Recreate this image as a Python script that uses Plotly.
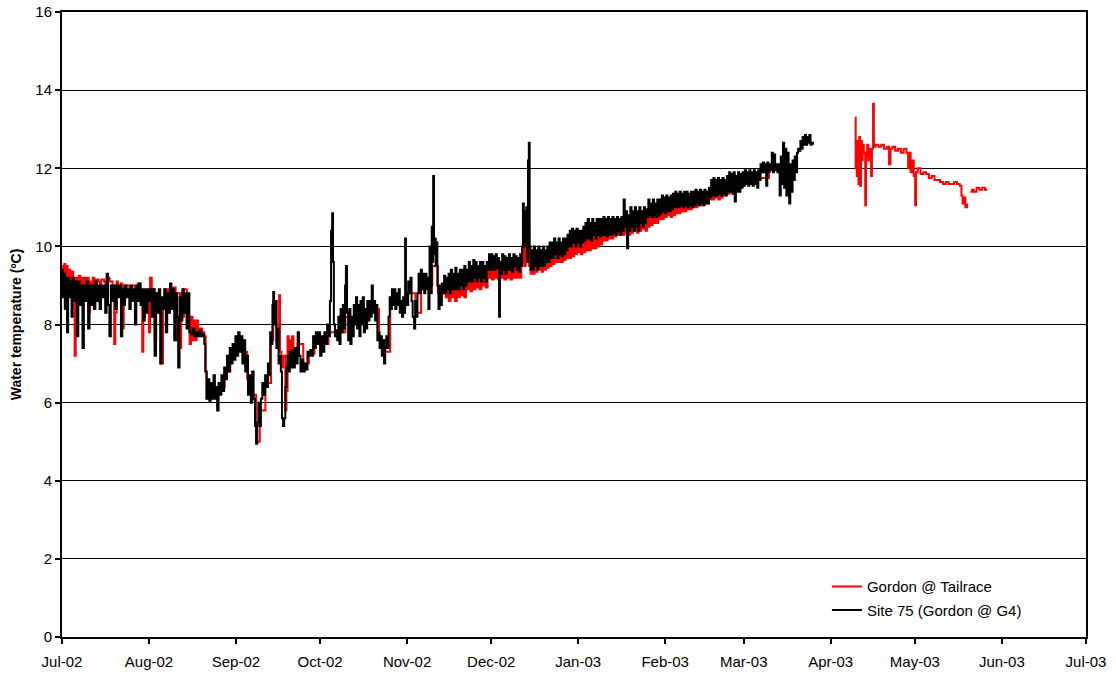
import pandas as pd
import plotly.graph_objects as go

# Day offsets from 1 Jul 2002 and water temperature (degC)
black_points = [
    # Jul-02
    (0.0,9.4),(0.3,8.7),(0.6,9.3),(1.0,8.4),(1.4,9.2),(1.8,7.8),(2.2,9.2),(2.6,8.7),(3.0,9.1),(3.4,8.2),
    (3.8,9.2),(4.3,8.6),(4.8,9.1),(5.3,7.7),(5.8,9.1),(6.3,8.5),(6.8,9.0),(7.3,7.4),(7.8,9.0),(8.3,8.6),
    (8.8,9.1),(9.3,7.9),(9.8,9.0),(10.3,8.5),(10.8,9.0),(11.4,8.4),(11.9,9.1),(12.4,8.6),(12.9,9.0),(13.4,8.4),
    (13.9,9.0),(14.4,8.7),(14.9,9.0),(15.4,8.3),(15.9,9.3),(16.4,8.5),(16.9,7.7),(17.4,9.0),(17.9,8.6),(18.4,9.0),
    (19.0,8.4),(19.5,9.0),(20.0,8.7),(20.5,9.0),(21.0,7.7),(21.5,8.9),(22.0,8.5),(22.5,9.0),(23.0,8.7),(23.5,8.9),
    (24.0,8.4),(24.5,9.0),(25.0,8.6),(25.5,8.9),(26.0,8.0),(26.5,9.0),(27.0,8.6),(27.5,9.05),(28.0,8.5),(28.5,8.9),
    (29.0,8.1),(29.5,8.9),(30.0,8.3),(30.5,8.9),(31.0,8.6),
    # Aug-02
    (31.5,8.9),(32.0,8.2),(32.5,8.9),(33.0,7.2),(33.5,8.8),(34.0,8.3),(34.5,8.9),(35.0,7.0),(35.5,8.7),(36.0,8.4),
    (36.5,8.9),(37.0,7.8),(37.5,8.8),(38.1,8.3),(38.5,9.05),(39.0,8.4),(39.5,8.9),(40.0,7.6),(40.5,8.8),(41.0,8.2),
    (41.4,6.9),(41.9,8.7),(42.4,8.1),(42.9,8.9),(43.4,8.3),(43.9,8.8),(44.4,7.9),(44.9,8.8),(45.4,7.8),(46.0,7.75),
    (46.6,7.9),(47.2,7.7),(47.8,7.8),(48.4,7.7),(49.0,7.85),(49.6,7.7),(50.2,7.75),(50.7,7.5),(51.1,6.8),(51.5,6.1),
    (52.0,6.6),(52.5,6.05),(53.0,6.5),(53.5,6.1),(54.0,6.7),(54.5,6.1),(55.0,6.4),(55.3,5.8),(55.8,6.5),(56.3,6.2),
    (56.8,6.7),(57.3,6.3),(57.8,6.9),(58.3,6.6),(58.8,7.2),(59.3,6.8),(59.8,7.4),(60.3,7.0),(60.8,7.5),(61.3,7.1),
    (61.8,7.7),
    # Sep-02
    (62.3,7.2),(62.8,7.8),(63.3,7.3),(63.8,7.7),(64.3,7.0),(64.8,7.6),(65.3,6.8),(65.8,7.2),(66.3,6.2),(66.8,6.7),
    (67.3,6.0),(67.8,6.8),(68.3,6.1),(68.8,5.4),(69.2,4.95),(69.6,5.5),(70.0,6.0),(70.4,5.4),(70.9,6.1),(71.4,6.5),
    (71.9,6.2),(72.4,6.7),(72.9,6.4),(73.4,7.0),(73.8,6.7),(74.2,7.8),(74.6,7.5),(75.0,8.5),(75.3,8.83),(75.6,8.0),
    (76.0,8.6),(76.4,7.4),(76.8,7.9),(77.2,7.0),(77.6,7.2),(78.0,6.8),(78.4,5.6),(78.8,5.4),(79.2,5.6),(79.6,6.4),
    (80.0,6.9),(80.4,7.2),(80.8,6.8),(81.2,7.3),(81.6,6.9),(82.0,7.35),(82.5,6.9),(83.0,7.4),(83.5,7.0),(84.0,7.8),
    (84.5,7.2),(85.0,6.8),(85.5,7.1),(86.0,6.8),(86.5,7.0),(87.0,6.85),(87.5,7.3),(88.0,7.2),(88.5,7.35),(89.0,7.2),
    (89.5,7.7),(90.0,7.4),(90.5,7.8),(91.0,7.5),(91.5,7.8),(92.0,7.2),
    # Oct-02
    (92.5,7.7),(93.0,7.3),(93.5,7.8),(94.0,7.5),(94.5,8.0),(95.0,7.7),(95.5,8.6),(95.9,10.4),(96.3,10.85),(96.6,9.6),
    (96.9,8.0),(97.3,7.7),(97.7,7.85),(98.1,7.6),(98.5,8.2),(98.9,7.5),(99.3,8.4),(99.7,7.8),(100.1,8.5),(100.5,7.9),
    (100.9,9.0),(101.2,9.5),(101.6,8.3),(102.0,7.6),(102.4,8.4),(102.8,7.5),(103.2,8.2),(103.6,7.7),(104.0,8.5),(104.4,8.0),
    (104.8,8.7),(105.2,7.9),(105.6,8.5),(106.0,7.7),(106.4,8.6),(106.8,8.0),(107.2,8.7),(107.6,7.8),(108.0,8.4),(108.4,7.9),
    (108.8,8.6),(109.2,8.1),(109.6,8.6),(110.0,8.2),(110.4,9.0),(110.8,8.3),(111.2,8.6),(111.6,8.1),(112.0,8.5),(112.4,7.6),
    (112.8,7.8),(113.2,7.4),(113.6,7.7),(114.0,7.2),(114.4,7.6),(114.8,7.0),(115.2,7.4),(115.6,7.7),(116.0,7.4),(116.4,8.2),
    (116.8,8.7),(117.2,8.4),(117.6,8.9),(118.0,8.5),(118.4,8.9),(118.8,8.4),(119.2,8.8),(119.6,8.5),(120.0,8.9),(120.4,8.3),
    (120.8,8.6),(121.2,8.2),(121.6,8.7),(122.0,8.3),(122.3,10.2),(122.6,8.8),(123.0,8.5),
    # Nov-02
    (123.4,9.1),(123.8,8.8),(124.2,9.2),(124.6,8.6),(125.0,8.2),(125.5,7.9),(125.9,8.6),(126.3,8.2),(126.7,8.8),(127.1,9.3),
    (127.5,8.8),(127.9,9.4),(128.3,8.9),(128.7,9.3),(129.1,8.8),(129.5,9.3),(129.9,8.9),(130.3,9.2),(130.6,8.4),(131.0,10.0),
    (131.4,8.8),(131.8,10.5),(132.1,9.6),(132.3,11.8),(132.6,9.8),(132.9,10.2),(133.2,9.5),(133.5,10.1),(133.8,9.0),(134.2,8.4),
    (134.6,9.0),(135.0,8.5),(135.4,9.05),(135.8,8.8),(136.2,9.25),(136.6,8.8),(137.0,9.2),(137.4,8.9),(137.8,9.3),(138.2,8.8),
    (138.6,9.4),(139.0,8.9),(139.4,9.3),(139.8,8.9),(140.2,9.45),(140.6,8.9),(141.0,9.3),(141.4,8.9),(141.8,9.4),(142.2,9.0),
    (142.6,9.4),(143.0,8.9),(143.4,9.5),(143.8,9.0),(144.2,9.4),(144.6,9.1),(145.0,9.6),(145.4,9.1),(145.8,9.5),(146.2,9.1),
    (146.6,9.65),(147.0,9.2),(147.4,9.6),(147.8,9.1),(148.2,9.5),(148.6,9.2),(149.0,9.6),(149.4,9.1),(149.8,9.6),(150.2,9.2),
    (150.6,9.5),(151.0,9.1),(151.4,9.6),(151.8,9.4),(152.2,9.8),(152.6,9.4),(153.0,9.8),
    # Dec-02
    (153.4,9.4),(153.8,9.75),(154.2,9.4),(154.6,9.8),(155.0,9.45),(155.4,9.7),(155.8,8.2),(156.1,9.6),(156.5,9.3),(156.9,9.8),
    (157.3,9.4),(157.7,9.75),(158.1,9.3),(158.5,9.7),(158.9,9.4),(159.3,9.8),(159.7,9.4),(160.1,9.7),(160.5,9.35),(160.9,9.8),
    (161.3,9.5),(161.7,9.75),(162.1,9.4),(162.5,9.7),(162.9,9.35),(163.3,9.8),(163.7,9.5),(164.0,10.0),(164.3,11.1),(164.6,10.0),
    (164.9,10.9),(165.2,10.1),(165.5,11.0),(165.8,9.6),(166.1,12.2),(166.4,12.65),(166.7,10.0),(167.0,9.4),(167.4,9.9),(167.8,9.4),
    (168.2,10.0),(168.6,9.5),(169.0,9.9),(169.4,9.4),(169.8,10.0),(170.2,9.5),(170.6,9.9),(171.0,9.5),(171.4,10.0),(171.8,9.5),
    (172.2,9.9),(172.6,9.6),(173.0,10.0),(173.4,9.6),(173.8,10.1),(174.2,9.7),(174.6,10.1),(175.0,9.7),(175.4,10.2),(175.8,9.8),
    (176.2,10.1),(176.6,9.7),(177.0,10.2),(177.4,9.8),(177.8,10.1),(178.2,9.75),(178.6,10.2),(179.0,9.8),(179.4,10.2),(179.8,9.9),
    (180.2,10.3),(180.6,10.0),(181.0,10.4),(181.4,10.0),(181.8,10.45),(182.2,10.1),(182.6,10.4),(183.0,10.0),(183.4,10.45),(183.8,10.1),
    (184.2,10.4),
    # Jan-03
    (184.6,10.0),(185.0,10.4),(185.4,10.1),(185.8,10.5),(186.2,10.15),(186.6,10.6),(187.0,10.2),(187.4,10.7),(187.8,10.2),(188.2,10.6),
    (188.6,10.15),(189.0,10.7),(189.4,10.3),(189.8,10.6),(190.2,10.2),(190.6,10.7),(191.0,10.3),(191.4,10.7),(191.8,10.25),(192.2,10.7),
    (192.6,10.3),(193.0,10.75),(193.4,10.3),(193.8,10.7),(194.2,10.25),(194.6,10.75),(195.0,10.3),(195.4,10.7),(195.8,10.3),(196.2,10.75),
    (196.6,10.35),(197.0,10.7),(197.4,10.3),(197.8,10.75),(198.2,10.4),(198.6,10.7),(199.0,10.3),(199.4,10.75),(199.8,10.4),(200.2,11.2),
    (200.6,10.5),(201.0,10.9),(201.4,9.95),(201.8,10.8),(202.2,10.4),(202.6,11.0),(203.0,10.5),(203.4,10.9),(203.8,10.4),(204.2,11.0),
    (204.6,10.5),(205.0,10.9),(205.4,10.4),(205.8,11.0),(206.2,10.6),(206.6,10.9),(207.0,10.5),(207.4,11.0),(207.8,10.6),(208.2,10.95),
    (208.6,10.75),(209.0,11.2),(209.4,10.8),(209.8,11.1),(210.2,10.75),(210.6,11.2),(211.0,10.8),(211.4,11.1),(211.8,10.75),(212.2,11.2),
    (212.6,10.8),(213.0,11.2),(213.4,10.85),(213.8,11.3),(214.2,10.9),(214.6,11.25),(215.0,10.85),
    # Feb-03
    (215.4,11.3),(215.8,10.9),(216.2,11.25),(216.6,10.9),(217.0,11.3),(217.4,10.95),(217.8,11.35),(218.2,11.0),(218.6,11.4),(219.0,11.0),
    (219.4,11.35),(219.8,11.0),(220.2,11.4),(220.6,11.05),(221.0,11.35),(221.4,11.0),(221.8,11.4),(222.2,11.05),(222.6,11.4),(223.0,11.0),
    (223.4,11.35),(223.8,11.05),(224.2,11.4),(224.6,11.0),(225.0,11.4),(225.4,11.05),(225.8,11.45),(226.2,11.1),(226.6,11.4),(227.0,11.05),
    (227.4,11.45),(227.8,11.1),(228.2,11.4),(228.6,11.05),(229.0,11.45),(229.4,11.1),(229.8,11.4),(230.2,11.1),(230.6,11.5),(231.0,11.25),
    (231.4,11.7),(231.8,11.3),(232.2,11.75),(232.6,11.3),(233.0,11.7),(233.4,11.3),(233.8,11.75),(234.2,11.35),(234.6,11.7),(235.0,11.3),
    (235.4,11.75),(235.8,11.35),(236.2,11.7),(236.6,11.3),(237.0,11.8),(237.4,11.4),(237.8,11.9),(238.2,11.4),(238.6,11.85),(239.0,11.35),
    (239.4,11.9),(239.8,11.15),(240.2,11.8),(240.6,11.4),(241.0,11.9),(241.4,11.4),(241.8,11.85),(242.2,11.5),(242.6,11.9),(243.0,11.55),
    # Mar-03
    (243.4,11.95),(243.8,11.6),(244.2,11.9),(244.6,11.55),(245.0,11.95),(245.4,11.6),(245.8,11.9),(246.2,11.55),(246.6,11.95),(247.0,11.6),
    (247.4,11.9),(247.8,11.5),(248.2,11.95),(248.6,11.7),(249.0,12.1),(249.4,11.9),(249.8,12.15),(250.2,11.9),(250.6,12.1),(251.0,11.55),
    (251.4,12.15),(251.8,11.9),(252.2,12.1),(252.6,11.95),(253.0,12.4),(253.4,11.9),(253.8,12.35),(254.2,11.95),(254.6,12.1),(255.0,11.9),
    (255.4,12.1),(255.8,11.3),(256.2,12.3),(256.6,11.6),(257.0,12.65),(257.4,11.5),(257.8,12.5),(258.2,11.3),(258.6,12.4),(259.0,11.6),
    (259.2,11.1),(259.6,12.1),(260.0,11.4),(260.4,12.2),(260.8,11.7),(261.2,12.3),(261.6,11.9),(262.0,12.4),(262.4,12.5),(262.8,12.45),
    (263.2,12.7),(263.6,12.5),(264.0,12.8),(264.4,12.6),(264.8,12.85),(265.2,12.6),(265.6,12.8),(266.0,12.65),(266.4,12.85),(266.8,12.6),
    (267.2,12.65),(267.7,12.6),
]

red_points_winter = [
    # Jul-02 / Aug-02
    (0.0,9.5),(0.4,9.2),(0.8,9.55),(1.2,9.0),(1.6,9.5),(2.0,9.2),(2.5,9.4),(3.0,9.0),(3.5,9.35),(4.0,8.6),
    (4.5,7.2),(4.9,9.2),(5.5,9.0),(6.0,9.25),(6.5,8.8),(7.0,9.2),(7.5,8.7),(8.0,9.2),(8.5,8.9),(9.0,9.2),
    (9.5,8.3),(10.0,9.1),(10.5,8.5),(11.0,9.2),(11.5,8.8),(12.0,9.15),(13.0,9.1),(13.5,8.8),(14.0,9.15),(15.0,9.1),
    (15.5,8.6),(16.0,9.2),(17.0,9.1),(18.0,9.0),(18.6,7.5),(19.0,8.3),(19.5,9.1),(20.0,8.9),(21.0,9.05),(21.5,7.9),
    (22.0,9.0),(23.0,9.0),(24.0,8.9),(25.0,9.0),(26.0,8.8),(27.0,9.05),(28.0,8.8),(28.6,7.3),(29.0,8.2),(29.6,8.8),
    (30.5,8.7),(31.0,7.8),(31.4,9.2),(32.0,8.6),(32.5,8.9),(33.0,7.6),(33.6,8.8),(34.2,8.4),(35.5,7.0),(36.0,8.5),
    (36.5,8.9),(37.5,8.4),(38.0,8.9),(39.0,8.6),(39.5,8.95),(40.5,7.6),(41.0,8.8),(42.0,7.4),(42.5,8.8),(43.0,8.2),
    (43.5,8.9),(44.5,8.5),(45.0,8.2),(45.5,7.5),(46.0,8.2),(46.5,7.6),(47.0,8.1),(47.5,7.6),(48.0,8.1),(48.5,7.7),
    (49.0,7.9),(50.0,7.8),(50.7,7.7),(51.2,6.8),(51.6,6.1),(52.5,6.4),(54.0,6.3),(56.0,6.4),(58.0,6.8),(60.0,7.2),
    (62.0,7.5),
    # Sep-02
    (64.0,7.3),(66.0,6.6),(68.0,6.2),(69.2,5.0),(70.5,5.8),(72.5,6.5),(74.5,7.6),(75.3,8.6),(76.5,7.6),(77.4,8.75),
    (77.7,7.3),(78.2,6.9),(78.8,7.2),(79.6,5.8),(80.0,6.3),(80.4,7.7),(80.8,7.0),(81.2,7.6),(81.6,7.1),(82.0,7.7),
    (82.5,7.2),(83.0,7.4),(84.0,7.5),(86.0,7.0),(88.0,7.25),(90.0,7.5),(92.0,7.5),
    # Oct-02 / Nov-02
    (95.0,7.8),(98.0,7.8),(101.0,8.2),(104.0,8.1),(107.0,8.2),(110.0,8.4),(113.0,7.6),(115.0,7.3),(117.0,8.6),(120.0,8.6),
    (123.0,8.8),(126.0,8.3),(128.0,9.0),(130.0,9.0),(132.0,9.5),(134.0,8.8),(136.0,8.9),
    (136.8,8.7),(137.4,9.0),(137.9,8.6),(138.5,9.0),(139.0,8.7),(139.6,9.1),(140.1,8.6),(140.7,9.0),(141.2,8.7),(141.8,9.1),
    (142.3,8.75),(142.9,9.1),(143.4,8.7),(144.0,9.2),(144.5,8.9),(145.1,9.2),(145.6,8.85),(146.2,9.3),(146.7,8.9),(147.3,9.3),
    (147.8,8.95),(148.4,9.3),(148.9,8.9),(149.5,9.4),(150.0,9.0),(150.6,9.4),(151.1,8.95),(151.7,9.4),(152.2,9.2),(152.8,9.5),
    # Dec-02
    (153.3,9.15),(153.9,9.5),(154.4,9.2),(155.0,9.5),(155.5,9.15),(156.1,9.5),(156.6,9.2),(157.2,9.5),(157.7,9.15),(158.3,9.5),
    (158.8,9.2),(159.4,9.55),(159.9,9.15),(160.5,9.5),(161.0,9.2),(161.6,9.55),(162.1,9.2),(162.7,9.5),(163.2,9.2),(163.7,9.5),
    (164.1,9.6),(164.5,10.4),(164.9,9.5),(165.3,10.85),(165.7,9.6),(166.1,10.5),(166.5,9.5),(167.0,9.3),(167.5,9.6),(168.0,9.3),
    (168.5,9.6),(169.0,9.35),(169.5,9.65),(170.0,9.4),(170.5,9.7),(171.0,9.35),(171.5,9.7),(172.0,9.4),(172.5,9.75),(173.0,9.45),
    (173.5,9.8),(174.0,9.5),(174.5,9.85),(175.0,9.55),(175.5,9.85),(176.0,9.6),(176.5,9.9),(177.0,9.6),(177.5,9.9),(178.0,9.6),
    (178.5,9.95),(179.0,9.65),(179.5,10.0),(180.0,9.7),(180.5,10.05),(181.0,9.7),(181.5,10.1),(182.0,9.75),(182.5,10.1),(183.0,9.8),
    (183.5,10.15),(184.0,9.85),
    # Jan-03
    (184.5,10.1),(185.0,9.8),(185.5,10.2),(186.0,9.85),(186.5,10.2),(187.0,9.9),(187.5,10.25),(188.0,9.9),(188.5,10.3),(189.0,9.95),
    (189.5,10.3),(190.0,9.95),(190.5,10.35),(191.0,10.0),(191.5,10.35),(192.0,10.05),(192.5,10.4),(193.0,10.15),(193.5,10.45),(194.0,10.15),
    (194.5,10.45),(195.0,10.2),(195.5,10.5),(196.0,10.2),(196.5,10.5),(197.0,10.25),(197.5,10.55),(198.0,10.3),(198.5,10.55),(199.0,10.3),
    (199.5,10.6),(200.0,10.3),(200.5,10.6),(201.0,10.35),(201.5,10.6),(202.0,10.3),(202.5,10.65),(203.0,10.35),(203.5,10.7),(204.0,10.4),
    (204.5,10.7),(205.0,10.35),(205.5,10.75),(206.0,10.4),(206.5,10.8),(207.0,10.45),(207.5,10.8),(208.0,10.4),(208.5,10.85),(209.0,10.5),
    (209.5,10.9),(210.0,10.55),(210.5,10.9),(211.0,10.6),(211.5,10.95),(212.0,10.6),(212.5,10.95),(213.0,10.7),(213.5,11.0),(214.0,10.7),
    (214.5,11.05),(215.0,10.75),
    # Feb-03 / Mar-03
    (215.5,11.05),(216.0,10.8),(216.5,11.1),(217.0,10.75),(217.5,11.1),(218.0,10.8),(218.5,11.15),(219.0,10.85),(219.5,11.15),(220.0,10.85),
    (220.5,11.2),(221.0,10.9),(221.5,11.2),(222.0,10.9),(222.5,11.2),(223.0,10.95),(223.5,11.25),(224.0,10.95),(224.5,11.25),(225.0,11.0),
    (225.5,11.3),(226.0,11.0),(226.5,11.3),(227.0,11.05),(227.5,11.35),(228.0,11.05),(228.5,11.35),(229.0,11.1),(229.5,11.4),(230.0,11.1),
    (230.5,11.4),(231.0,11.2),(231.5,11.5),(232.0,11.2),(232.5,11.5),(233.0,11.25),(233.5,11.55),(234.0,11.2),(234.5,11.55),(235.0,11.25),
    (235.5,11.6),(236.0,11.3),(236.5,11.6),(237.0,11.35),(238.0,11.6),(239.0,11.4),(240.0,11.6),(241.0,11.5),(242.0,11.6),(244.0,11.7),
    (248.0,11.75),(252.0,12.0),(256.0,12.0),(260.0,12.0),(262.0,12.3),
]

red_points_spring = [
    # Apr-03 / May-03
    (282.7,13.3),(282.9,12.0),(283.1,12.6),(283.3,11.8),(283.6,12.7),(283.9,11.6),(284.2,12.8),(284.5,11.55),(284.8,12.7),(285.1,12.2),
    (285.4,12.6),(285.8,12.4),(286.3,11.05),(286.6,12.3),(287.0,12.6),(287.4,12.2),(287.8,12.5),(288.4,11.8),(288.7,12.5),(289.1,13.65),
    (289.4,12.55),(290.0,12.6),(291.0,12.55),(292.0,12.6),(293.0,12.5),(294.0,12.55),(294.8,12.1),(295.3,12.5),(296.0,12.55),(297.0,12.45),
    (298.0,12.5),(299.0,12.4),(300.0,12.5),(301.0,12.4),(301.6,12.0),(302.0,12.4),(302.5,11.9),(303.0,12.2),(303.6,11.8),(304.1,11.05),
    (304.4,11.9),(305.0,12.0),(306.0,11.85),(307.0,11.9),(308.0,11.85),(309.0,11.75),(310.0,11.8),(311.0,11.7),(312.0,11.7),(313.0,11.65),
    (314.0,11.6),(315.0,11.65),(316.0,11.6),(317.0,11.6),(318.0,11.65),(319.0,11.6),(320.0,11.55),(320.6,11.3),(321.0,11.1),(321.5,11.25),
    (322.0,11.0),(322.6,11.1),
]
red_points_late = [
    (323.8,11.4),(324.4,11.45),(325.0,11.4),(326.0,11.5),(327.0,11.45),(328.0,11.5),(329.0,11.45),(329.8,11.45),
]

series_names = ["Gordon @ Tailrace", "Site 75 (Gordon @ G4)"]
start = pd.Timestamp("2002-07-01")


def to_xy(segments):
    xs, ys = [], []
    for k, seg in enumerate(segments):
        if k > 0:
            xs.append(None)
            ys.append(None)
        for d, v in seg:
            xs.append(start + pd.Timedelta(days=d))
            ys.append(v)
    return xs, ys


rx, ry = to_xy([red_points_winter, red_points_spring, red_points_late])
bx, by = to_xy([black_points])

font_family = "Liberation Sans, Arial, sans-serif"

fig = go.Figure()
fig.add_trace(go.Scatter(x=rx, y=ry, mode="lines", name=series_names[0],
                         line=dict(color="#ff0000", width=2, shape="hv"), connectgaps=False,
                         legendgroup="a"))
fig.add_trace(go.Scatter(x=bx, y=by, mode="lines", name=series_names[1],
                         line=dict(color="#000000", width=2, shape="hv"),
                         legendgroup="b"))

fig.update_layout(
    width=1116, height=675,
    margin=dict(l=62, r=30, t=12, b=38),
    paper_bgcolor="white", plot_bgcolor="white",
    font=dict(family=font_family, size=15, color="black"),
    showlegend=True,
    legend=dict(x=0.747, y=0.107, xanchor="left", yanchor="top",
                bgcolor="rgba(0,0,0,0)", font=dict(size=15),
                traceorder="grouped", tracegroupgap=1),
    xaxis=dict(
        type="date", automargin=False,
        range=["2002-07-01", "2003-07-01"],
        tick0="2002-07-01", dtick="M1", tickformat="%b-%y",
        ticks="outside", ticklen=5, tickwidth=2, tickcolor="black",
        ticklabelstandoff=5,
        showline=True, linecolor="black", linewidth=2, mirror=True,
        showgrid=False, zeroline=False,
        tickfont=dict(size=15),
    ),
    yaxis=dict(
        automargin=False,
        range=[0, 16], dtick=2, tick0=0,
        ticks="outside", ticklen=5, tickwidth=2, tickcolor="black",
        showline=True, linecolor="black", linewidth=2, mirror=True,
        showgrid=True, gridcolor="black", gridwidth=1, zeroline=False,
        tickfont=dict(size=15),
        title=dict(text="<b>Water temperature (ºC)</b>", font=dict(size=14), standoff=10),
    ),
)

fig.write_html("out.html")
